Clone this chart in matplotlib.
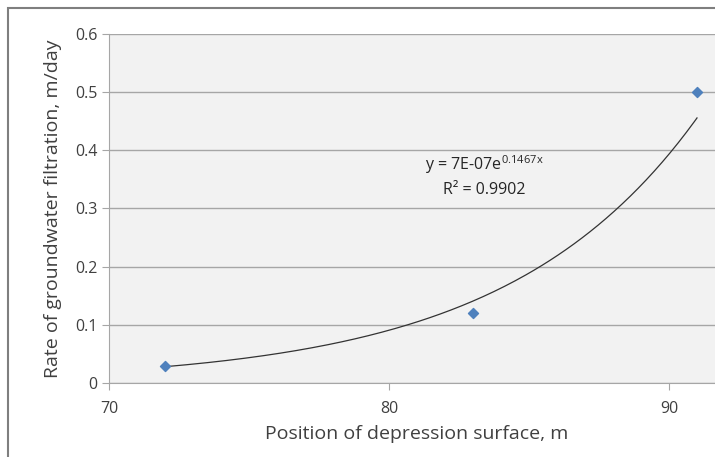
import numpy as np
import matplotlib

matplotlib.use("Agg")
import matplotlib.pyplot as plt
from matplotlib.patches import Rectangle

# measured points
position_m = [72, 83, 91]
rate_m_day = [0.03, 0.12, 0.5]

x_ticks = [70, 80, 90]
y_ticks = [0, 0.1, 0.2, 0.3, 0.4, 0.5, 0.6]

# exponential trendline, fitted the way Excel does (linear fit of ln y)
slope, intercept = np.polyfit(position_m, np.log(rate_m_day), 1)
x_fit = np.linspace(min(position_m), max(position_m), 200)
y_fit = np.exp(intercept) * np.exp(slope * x_fit)

TEXT = "#404040"
GRID = "#a6a6a6"

plt.rcParams["font.family"] = ["Open Sans", "DejaVu Sans"]

fig = plt.figure(figsize=(7.15, 4.57), dpi=100)
W, H = 715, 457

# chart border (runs off the right/bottom of the picture)
fig.patches.append(Rectangle((8 / W, -0.05), 1.1, 1 - 8 / H + 0.05,
                             transform=fig.transFigure, fill=False,
                             edgecolor="#7f7f7f", linewidth=1.5))

left, right, top, bottom = 109, 109 + 22 * 28, 34, 383
ax = fig.add_axes([left / W, 1 - bottom / H, (right - left) / W, (bottom - top) / H])
ax.set_facecolor("#f2f2f2")

ax.plot(x_fit, y_fit, color="#333333", linewidth=0.9, zorder=3)
ax.scatter(position_m, rate_m_day, marker="D", s=26, color="#4f81bd", zorder=4)

ax.set_xlim(70, 92)
ax.set_ylim(0, 0.6)
ax.set_xticks(x_ticks)
ax.set_yticks(y_ticks)
ax.set_yticklabels(["0", "0.1", "0.2", "0.3", "0.4", "0.5", "0.6"])
ax.yaxis.grid(True, color=GRID, linewidth=1)
ax.set_axisbelow(True)

for side in ("top", "right"):
    ax.spines[side].set_visible(False)
for side in ("left", "bottom"):
    ax.spines[side].set_color(GRID)
ax.tick_params(axis="both", colors=GRID, labelcolor=TEXT, labelsize=11.5,
               length=5, direction="out")
ax.tick_params(axis="x", pad=8)

ax.set_xlabel("Position of depression surface, m", color=TEXT, fontsize=14, labelpad=6)
ax.set_ylabel("Rate of groundwater filtration, m/day", color=TEXT, fontsize=14, labelpad=9)

ax.text(83.4, 0.376, f"y = 7E-07e$^{{\\mathregular{{{slope:.4f}x}}}}$", ha="center",
        va="center", color="#262626", fontsize=11.5)
ax.text(83.4, 0.332, "R² = 0.9902", ha="center", va="center",
        color="#262626", fontsize=11.5)

fig.savefig("out.png", dpi=100)
